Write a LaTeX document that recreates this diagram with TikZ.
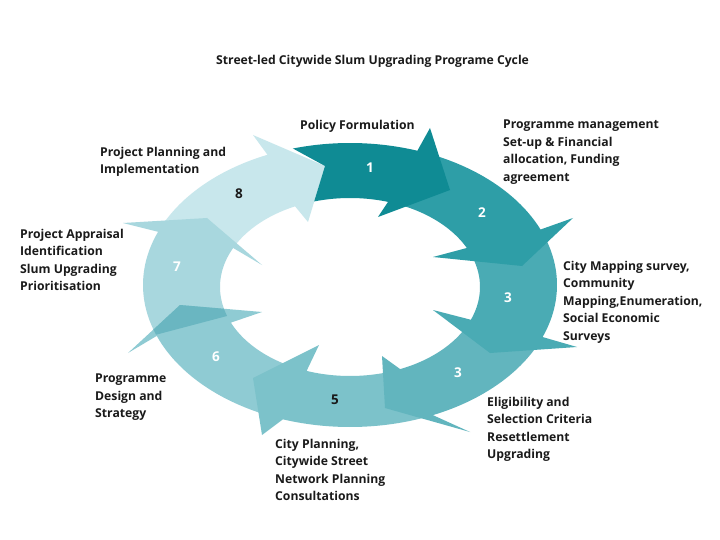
\documentclass[tikz,border=0pt]{standalone}
\usepackage{fontspec}
\setmainfont{Open Sans}
\definecolor{cone}{HTML}{0F8B94}
\definecolor{ctwo}{HTML}{2E9EA7}
\definecolor{cthree}{HTML}{4AABB4}
\definecolor{cfour}{HTML}{62B5BE}
\definecolor{cfive}{HTML}{7CC2CA}
\definecolor{csix}{HTML}{8FCBD3}
\definecolor{cseven}{HTML}{A8D7DE}
\definecolor{ceight}{HTML}{C8E7EC}
\definecolor{csixseven}{HTML}{6AB6C1}
\definecolor{txt}{HTML}{1A1A1A}
\begin{document}
\begin{tikzpicture}[x=1pt,y=-1pt,
  lbl/.style={font=\fontsize{12.2}{17.5}\selectfont\bfseries, text=txt, align=left, anchor=north west, inner sep=0pt},
  num/.style={font=\fontsize{13.5}{15}\selectfont\bfseries, inner sep=0pt},
  numw/.style={num, text=white},
  numd/.style={num, text=txt}]
\fill[white] (0,0) rectangle (720,540);
\useasboundingbox (0,0) rectangle (720,540);

% arrow 8
\fill[ceight] plot[domain=204:246.5, samples=40] ({350+207*cos(\x)},{285+142*sin(\x)})
  -- (253,135) -- (325,166) -- (308,222)
  -- plot[domain=245:208, samples=40] ({350+130*cos(\x)},{287+89*sin(\x)}) -- cycle;
% arrow 7
\fill[cseven] plot[domain=159.5:202, samples=40] ({350+207*cos(\x)},{285+142*sin(\x)})
  -- (123,223) -- (207,218) -- (262,265)
  -- plot[domain=206:161, samples=40] ({350+130*cos(\x)},{287+89*sin(\x)}) -- cycle;
% arrow 6
\fill[csix] plot[domain=112:159, samples=40] ({350+207*cos(\x)},{285+142*sin(\x)})
  -- (128,353) -- (180,305) -- (262,312)
  -- plot[domain=156.4:112, samples=40] ({350+130*cos(\x)},{287+89*sin(\x)}) -- cycle;
% overlap of head 6 on arrow 7
\begin{scope}
\clip plot[domain=159.5:202, samples=40] ({350+207*cos(\x)},{285+142*sin(\x)})
  -- (123,223) -- (207,218) -- (262,265)
  -- plot[domain=206:161, samples=40] ({350+130*cos(\x)},{287+89*sin(\x)}) -- cycle;
\fill[csixseven] plot[domain=112:159, samples=40] ({350+207*cos(\x)},{285+142*sin(\x)})
  -- (128,353) -- (180,305) -- (262,312)
  -- plot[domain=156.4:112, samples=40] ({350+130*cos(\x)},{287+89*sin(\x)}) -- cycle;
\end{scope}
% arrow 5
\fill[cfive] plot[domain=68:108.9, samples=40] ({350+207*cos(\x)},{285+142*sin(\x)})
  -- (262,435) -- (253,378) -- (319,345)
  -- plot[domain=109.5:72, samples=40] ({350+130*cos(\x)},{287+89*sin(\x)}) -- cycle;
% arrow 4 (second 3)
\fill[cfour] plot[domain=25:66.4, samples=40] ({350+207*cos(\x)},{285+142*sin(\x)})
  -- (470,432) -- (385,408) -- (382,356)
  -- plot[domain=67.3:25, samples=40] ({350+130*cos(\x)},{287+89*sin(\x)}) -- cycle;
% arrow 3
\fill[cthree] plot[domain=-20:21.5, samples=40] ({350+207*cos(\x)},{285+142*sin(\x)})
  -- (577,347) -- (490,353) -- (433,310)
  -- plot[domain=21.6:-20, samples=40] ({350+130*cos(\x)},{287+89*sin(\x)}) -- cycle;
% arrow 2
\fill[ctwo] plot[domain=-68:-23, samples=40] ({350+207*cos(\x)},{285+142*sin(\x)})
  -- (573,218) -- (522,266) -- (433,257)
  -- plot[domain=-26:-67, samples=40] ({350+130*cos(\x)},{287+89*sin(\x)}) -- cycle;
% arrow 1
\fill[cone] plot[domain=-106:-71, samples=40] ({350+207*cos(\x)},{285+142*sin(\x)})
  -- (430,128) -- (450,190) -- (378,217)
  -- plot[domain=-73:-106, samples=40] ({350+130*cos(\x)},{287+89*sin(\x)}) -- (325,166) -- cycle;

% numbers
\node[numw] (n1) at (370,168) {1};
\node[numw] (n2) at (482,213) {2};
\node[numw] (n3) at (508,298) {3};
\node[numw] (n4) at (458,373) {3};
\node[numd] (n5) at (335,400) {5};
\node[numw] (n6) at (216,357) {6};
\node[numw] (n7) at (177,267) {7};
\node[numd] (n8) at (239,194) {8};

% texts
\node[lbl] (title) at (216,55) {Street-led Citywide Slum Upgrading Programe Cycle};
\node[lbl] (policy) at (300,120) {Policy Formulation};
\node[lbl] (progman) at (503,120) {Programme management\\Set-up \& Financial\\allocation, Funding\\agreement};
\node[lbl] (mapping) at (563,261) {City Mapping survey,\\Community\\Mapping,Enumeration,\\Social Economic\\Surveys};
\node[lbl] (eligib) at (487,397) {Eligibility and\\Selection Criteria\\Resettlement\\Upgrading};
\node[lbl] (cityplan) at (275,439) {City Planning,\\Citywide Street\\Network Planning\\Consultations};
\node[lbl] (progdesign) at (95,374) {Programme\\Design and\\Strategy};
\node[lbl] (appraisal) at (20,229) {Project Appraisal\\Identification\\Slum Upgrading\\Prioritisation};
\node[lbl] (projplan) at (100,147) {Project Planning and\\Implementation};
\end{tikzpicture}
\end{document}
